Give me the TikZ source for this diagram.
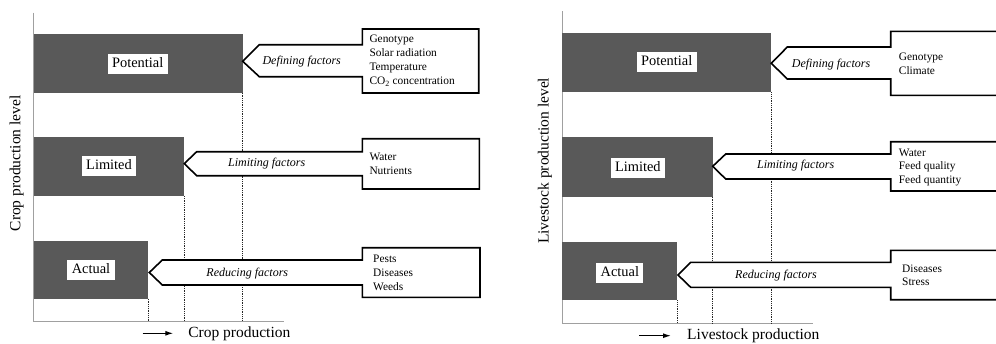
\documentclass[tikz,border=0pt]{standalone}
\usepackage{fontspec}
\setmainfont{Liberation Serif}
\usetikzlibrary{arrows.meta}
\definecolor{bargray}{RGB}{89,89,89}
\definecolor{axisgray}{RGB}{160,160,160}
\tikzset{
 bar/.style={fill=bargray, draw=none},
 lvl/.style={fill=white, inner xsep=4.5pt, inner ysep=0pt, minimum height=20pt, text height=10pt, text depth=3pt, font=\fontsize{14.4}{16}\selectfont},
 factor/.style={draw=black, fill=white, line width=1.6pt, line join=miter},
 flabel/.style={font=\fontsize{12}{14}\selectfont\itshape, inner sep=0pt},
 flist/.style={font=\fontsize{11.4}{14}\selectfont, align=left, inner sep=0pt, anchor=west},
 flistb/.style={font=\fontsize{11.4}{13.5}\selectfont, align=left, inner sep=0pt, anchor=west},
 axisline/.style={draw=axisgray, line width=0.9pt},
 guide/.style={dash pattern=on 1pt off 0.8pt, line width=0.8pt, draw=black!85},
 axlabel/.style={font=\fontsize{15.5}{18}\selectfont, inner sep=0pt},
 dirarrow/.style={-{Latex[length=8pt,width=5pt]}, line width=1.2pt},
}
\begin{document}
\begin{tikzpicture}[x=1pt,y=-1pt]
\useasboundingbox (0,0) rectangle (996,343);
\clip (0,0) rectangle (996,343);
% ---------------- left panel ----------------
\draw[axisline] (33.5,12.7) coordinate (Ltop) -- (33.5,321) coordinate (Lo) -- (284,321) coordinate (Lend);
\fill[bar] (33.5,34) rectangle (242.5,92.7) coordinate (LpotBR);
\fill[bar] (33.5,137) rectangle (184,196) coordinate (LlimBR);
\fill[bar] (33.5,240.7) rectangle (148,298.7) coordinate (LactBR);
\node[lvl] (Lpot) at (137.7,64) {Potential};
\node[lvl] (Llim) at (109,166.3) {Limited};
\node[lvl] (Lact) at (91,269.5) {Actual};
\draw[guide] (LactBR) -- (LactBR |- Lo);
\draw[guide] (LlimBR) -- (LlimBR |- Lo);
\draw[guide] (LpotBR) -- (LpotBR |- Lo);
\draw[factor] (242.7,61.3) -- (259.3,44.7) -- (362.3,44.7) -- (362.3,29) -- (478.7,29) -- (478.7,93) -- (362.3,93) -- (362.3,76.7) -- (259.3,76.7) -- cycle;
\node[flabel] (LdefT) at (301.7,62) {Defining factors};
\node[flist] (LdefL) at (369.3,61) {Genotype\\Solar radiation\\Temperature\\CO\textsubscript{2} concentration};
\draw[factor] (184.3,163.6) -- (196.7,151.7) -- (362.3,151.7) -- (362.3,138.7) -- (479.3,138.7) -- (479.3,189) -- (362.3,189) -- (362.3,175.7) -- (196.7,175.7) -- cycle;
\node[flabel] (LlimT) at (266.7,163.3) {Limiting factors};
\node[flist] (LlimL) at (369.3,164) {Water\\Nutrients};
\draw[factor] (149.3,272.5) -- (162.3,260) -- (362.3,260) -- (362.3,247.7) -- (480,247.7) -- (480,297.3) -- (362.3,297.3) -- (362.3,285) -- (162.3,285) -- cycle;
\node[flabel] (LredT) at (247.3,274) {Reducing factors};
\node[flist] (LredL) at (373,273) {Pests\\Diseases\\Weeds};
\node[axlabel, rotate=90] (Lylab) at (16.7,163.3) {Crop production level};
\node[axlabel] (Lxlab) at (239.3,333.3) {Crop production};
\coordinate (La1) at (142.7,333.3);
\coordinate (La2) at (173.3,333.3);
\draw[dirarrow] (La1) -- (La2);
% ---------------- right panel ----------------
\draw[axisline] (562.3,11) coordinate (Rtop) -- (562.3,323.3) coordinate (Ro) -- (813.3,323.3) coordinate (Rend);
\fill[bar] (562.3,32.7) rectangle (771,92.3) coordinate (RpotBR);
\fill[bar] (562.3,137.3) rectangle (712.7,196.7) coordinate (RlimBR);
\fill[bar] (562.3,241.7) rectangle (677.3,300.3) coordinate (RactBR);
\node[lvl] (Rpot) at (666.7,62.3) {Potential};
\node[lvl] (Rlim) at (637.8,167.5) {Limited};
\node[lvl] (Ract) at (619.8,272.5) {Actual};
\draw[guide] (RactBR) -- (RactBR |- Ro);
\draw[guide] (RlimBR) -- (RlimBR |- Ro);
\draw[guide] (RpotBR) -- (RpotBR |- Ro);
\draw[factor] (771.3,63.3) -- (787.3,47) -- (890.7,47) -- (890.7,31.3) -- (1010,31.3) -- (1010,95.3) -- (890.7,95.3) -- (890.7,79) -- (787.3,79) -- cycle;
\node[flabel] (RdefT) at (831,65) {Defining factors};
\node[flistb] (RdefL) at (898.7,63.7) {Genotype\\Climate};
\draw[factor] (712.7,166.3) -- (725.7,154) -- (890.7,154) -- (890.7,141.7) -- (1010,141.7) -- (1010,191) -- (890.7,191) -- (890.7,179) -- (725.7,179) -- cycle;
\node[flabel] (RlimT) at (795.7,166) {Limiting factors};
\node[flistb] (RlimL) at (898.7,167) {Water\\Feed quality\\Feed quantity};
\draw[factor] (678,275) -- (690.7,262.3) -- (890.7,262.3) -- (890.7,250.3) -- (1010,250.3) -- (1010,299.7) -- (890.7,299.7) -- (890.7,287.3) -- (690.7,287.3) -- cycle;
\node[flabel] (RredT) at (776,276) {Reducing factors};
\node[flistb] (RredL) at (902,275.3) {Diseases\\Stress};
\node[axlabel, rotate=90] (Rylab) at (545,160.8) {Livestock production level};
\node[axlabel] (Rxlab) at (753.3,335.7) {Livestock production};
\coordinate (Ra1) at (639.3,335.7);
\coordinate (Ra2) at (671,335.7);
\draw[dirarrow] (Ra1) -- (Ra2);
\end{tikzpicture}
\end{document}
